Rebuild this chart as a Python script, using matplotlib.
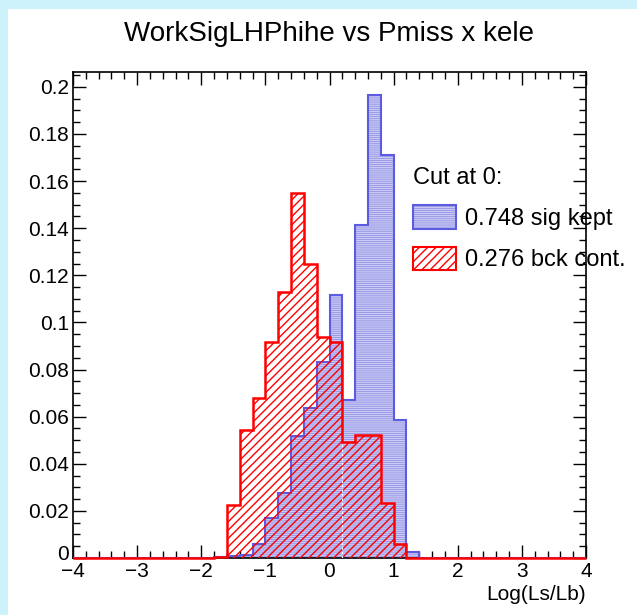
import numpy as np
import matplotlib.pyplot as plt
from matplotlib.patches import Patch, Rectangle
from matplotlib.legend_handler import HandlerTuple
from matplotlib.ticker import MultipleLocator, FixedLocator
from matplotlib.transforms import ScaledTranslation

plt.rcParams['font.family'] = ['Liberation Sans', 'DejaVu Sans']
plt.rcParams['hatch.linewidth'] = 1.0

# binning: 40 bins of 0.2 from -4 to 4
bin_edges = np.round(np.linspace(-4.0, 4.0, 41), 1)

# signal (blue) and background (red) fractions per bin
sig = [0, 0, 0, 0, 0, 0, 0, 0, 0, 0,
       0, 0.0006, 0.0007, 0.0012, 0.0061, 0.0170, 0.0277, 0.0519, 0.0636, 0.0833,
       0.1117, 0.0671, 0.1412, 0.1965, 0.1712, 0.0585, 0.0027, 0, 0, 0,
       0, 0, 0, 0, 0, 0, 0, 0, 0, 0]
bck = [0, 0, 0, 0, 0, 0, 0, 0, 0, 0,
       0, 0.0006, 0.0226, 0.0543, 0.0680, 0.0917, 0.1128, 0.1550, 0.1248, 0.0938,
       0.0917, 0.0491, 0.0522, 0.0522, 0.0235, 0.0061, 0, 0, 0, 0,
       0, 0, 0, 0, 0, 0, 0, 0, 0, 0]

y_ticks = [0, 0.02, 0.04, 0.06, 0.08, 0.1, 0.12, 0.14, 0.16, 0.18, 0.2]
y_labels = ['0', '0.02', '0.04', '0.06', '0.08', '0.1', '0.12', '0.14', '0.16', '0.18', '0.2']

title = 'WorkSigLHPhihe vs Pmiss x kele'
legend_title = 'Cut at 0:'
legend_labels = ['0.748 sig kept', '0.276 bck cont.']

blue_fill = '#8787e3'
blue_stripe = '#cacaf4'
blue_edge = '#5c5ce0'
blue_hatch = '--------'
red_hatch = '////'

fig = plt.figure(figsize=(6.37, 6.15), dpi=100, facecolor='#cdf2fc')
fig.add_artist(Rectangle((8 / 637, 0), 1, 1 - 9 / 615, transform=fig.transFigure,
                         facecolor='white', edgecolor='none', zorder=0))

ax = fig.add_axes([73 / 637, 57 / 615, 513 / 637, 486 / 615])

# signal: filled pattern + outline
ax.stairs(sig, bin_edges, fill=True, facecolor=blue_fill, edgecolor=blue_stripe,
          hatch=blue_hatch, linewidth=0, zorder=2)
ax.stairs(sig, bin_edges, color=blue_edge, linewidth=1.5, zorder=3)

# background: hatched + outline
ax.stairs(bck, bin_edges, fill=True, facecolor='none', edgecolor='red',
          hatch=red_hatch, linewidth=0, zorder=4)
ax.vlines(bin_edges[21], 0, bck[21], colors='white', linestyles=(0, (2, 2)),
          linewidth=0.8, zorder=4)
ax.stairs(bck, bin_edges, color='red', linewidth=1.8, zorder=5, clip_on=False)

ax.set_xlim(-4, 4)
ax.set_ylim(0, 0.2063)
ax.xaxis.set_major_locator(MultipleLocator(1))
ax.xaxis.set_minor_locator(MultipleLocator(0.2))
ax.yaxis.set_major_locator(FixedLocator(y_ticks))
ax.set_yticklabels(y_labels)
ax.yaxis.set_minor_locator(MultipleLocator(0.005))
ax.tick_params(which='both', direction='in', top=True, right=True, width=1,
               labelsize=15, pad=3)
ax.tick_params(which='major', length=9.5)
ax.tick_params(which='minor', length=5)
for s in ax.spines.values():
    s.set_linewidth(1.2)

# nudge the y "0" label up a little so it clears the x "-4"
lab0 = ax.get_yticklabels()[0]
lab0.set_transform(lab0.get_transform() + ScaledTranslation(0, 5 / 100, fig.dpi_scale_trans))

ax.set_xlabel('Log(Ls/Lb)', fontsize=15, ha='right')
ax.xaxis.set_label_coords(1.0, -0.055)

fig.text((73 + 586) / 2 / 637, 0.945, title, ha='center', va='center', fontsize=20)

handles = [(Patch(facecolor=blue_fill, edgecolor=blue_stripe, hatch=blue_hatch, linewidth=0),
            Patch(facecolor='none', edgecolor=blue_edge, linewidth=1.5)),
           Patch(facecolor='none', edgecolor='red', hatch=red_hatch, linewidth=1.5)]
ax.legend(handles, legend_labels, title=legend_title, alignment='left',
          loc='upper left', bbox_to_anchor=(0.663, 0.805), frameon=False,
          fontsize=17, title_fontsize=17, handlelength=1.8, handleheight=1.15,
          handletextpad=0.4, labelspacing=0.7, borderaxespad=0, borderpad=0,
          handler_map={tuple: HandlerTuple(ndivide=1)})

fig.savefig('out.png', dpi=100, facecolor=fig.get_facecolor())
